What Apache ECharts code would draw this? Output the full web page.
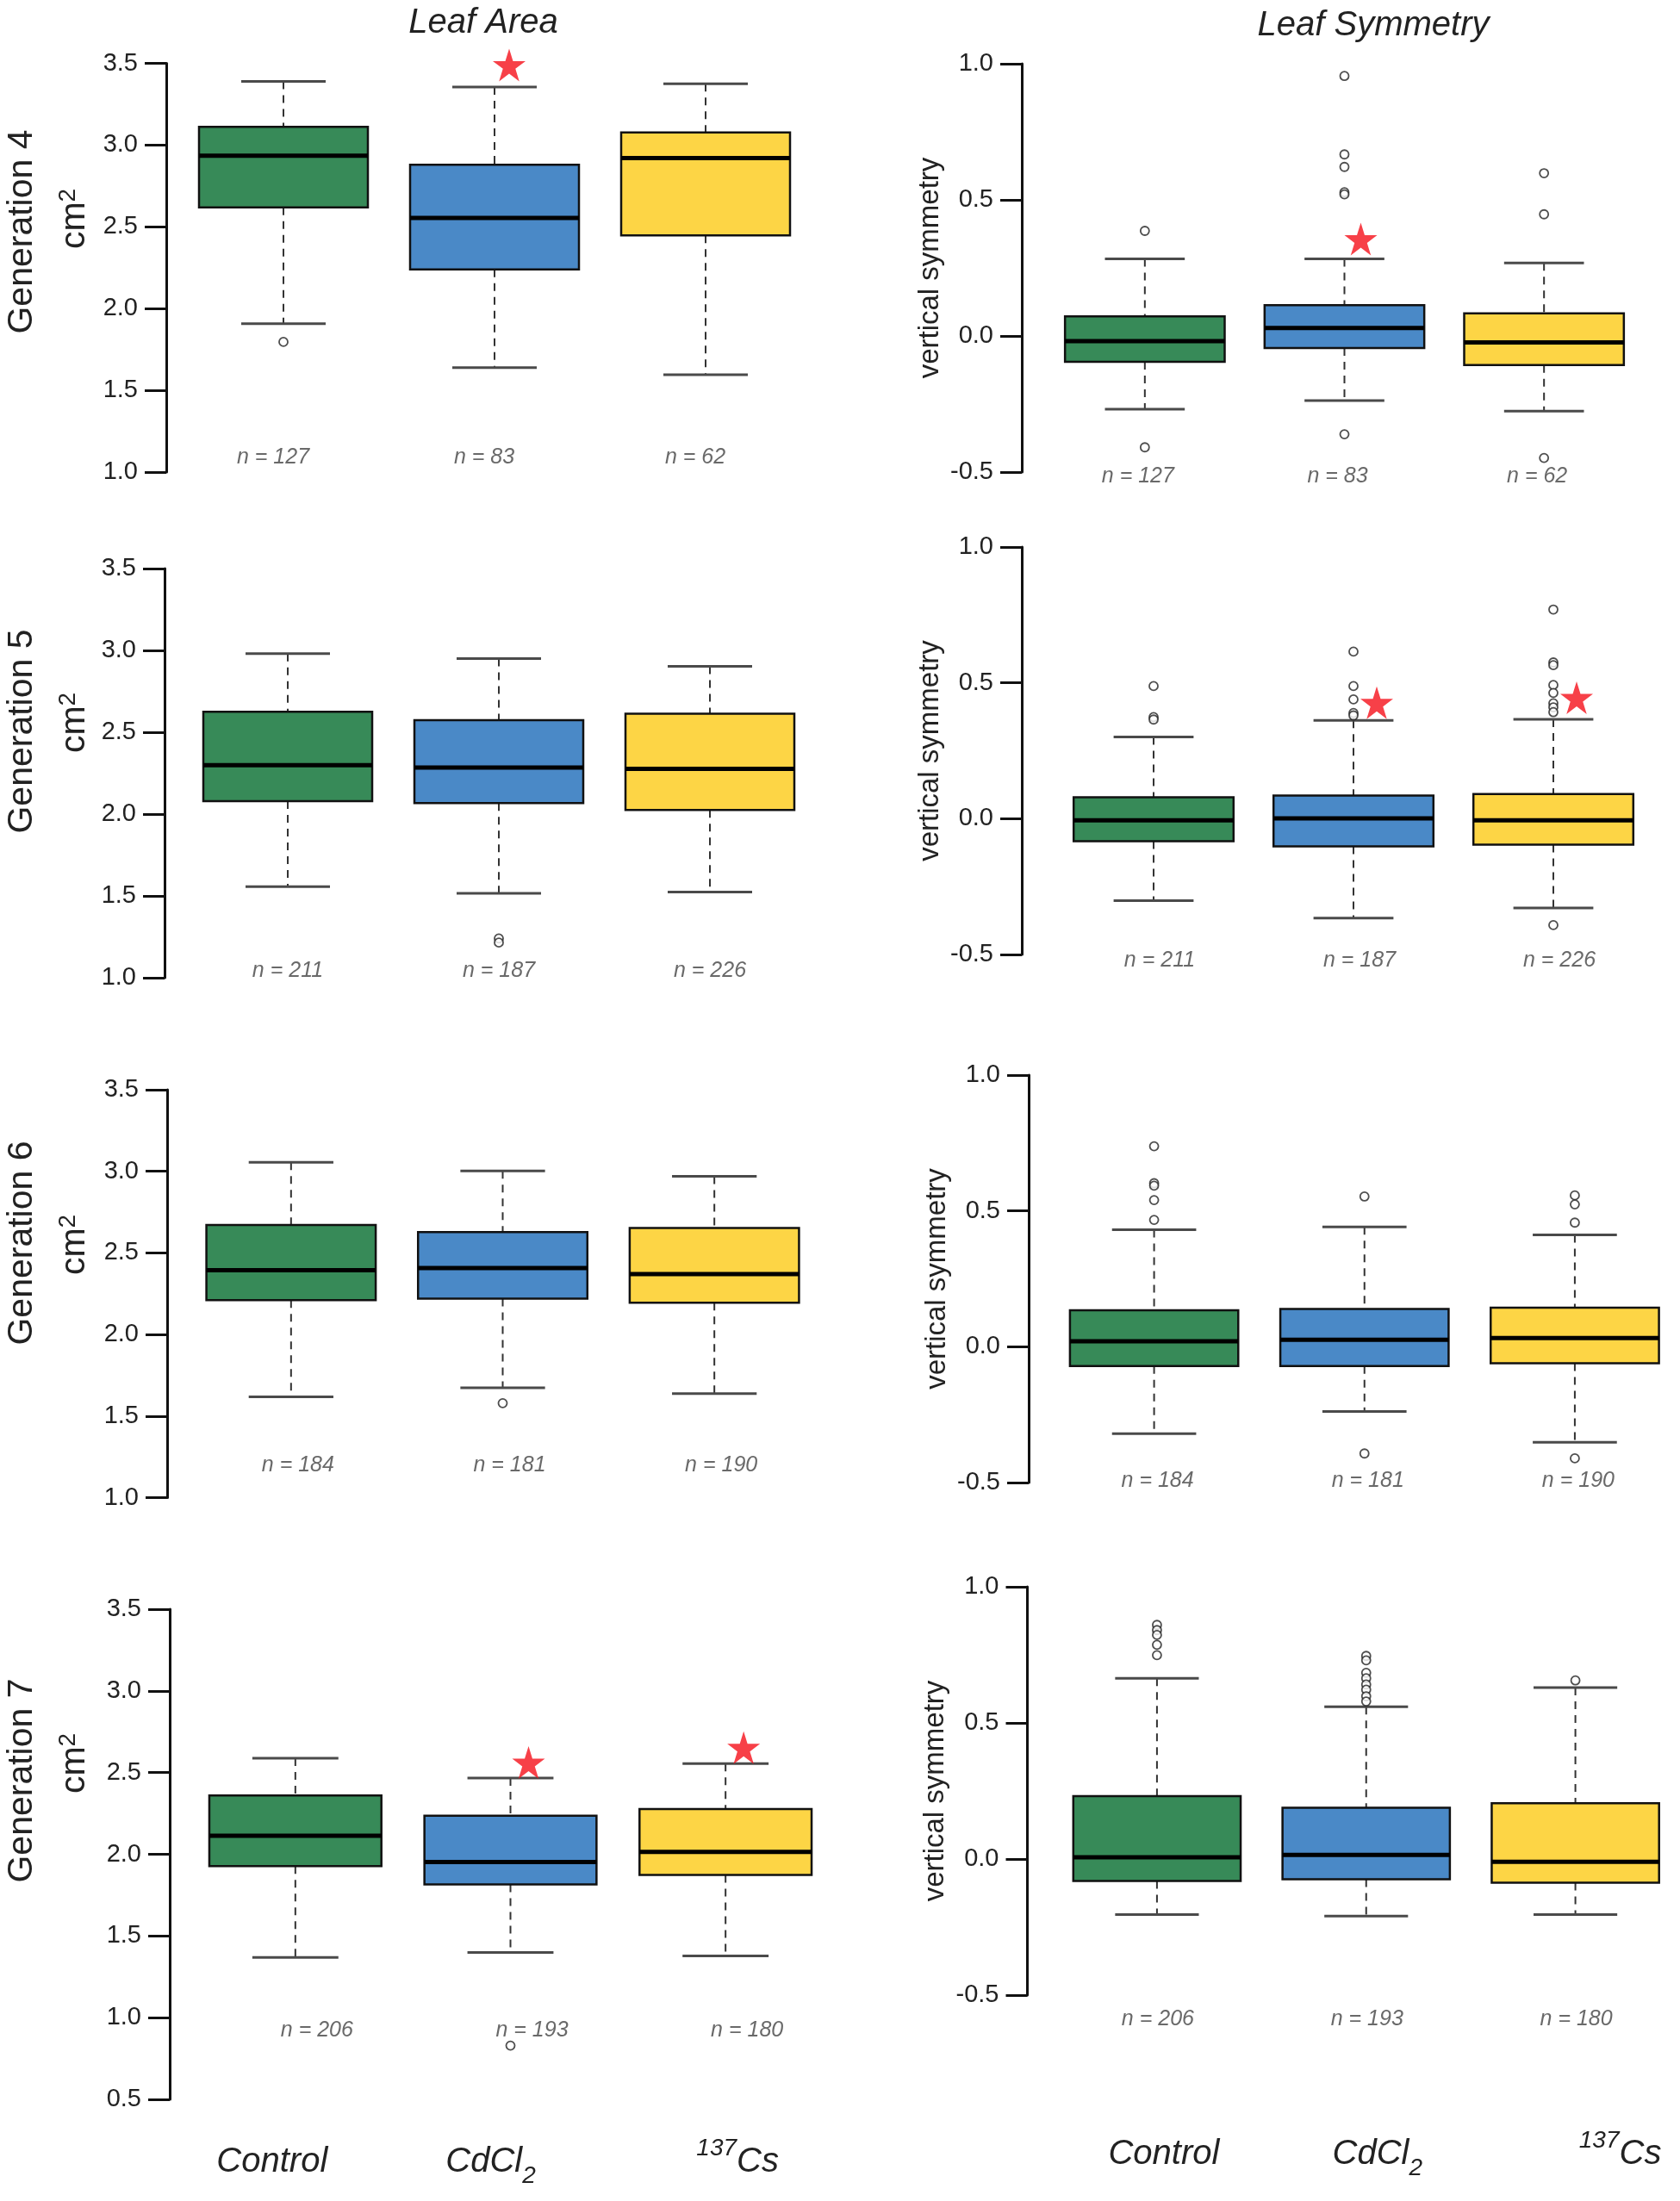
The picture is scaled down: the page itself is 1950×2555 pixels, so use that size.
<!DOCTYPE html>
<html>
<head>
<meta charset="utf-8">
<title>Leaf area and symmetry</title>
<script src="https://cdn.jsdelivr.net/npm/echarts@6.0.0/dist/echarts.min.js"></script>
<style>
  html, body { margin: 0; padding: 0; background: #fff; }
  #chart { width: 1950px; height: 2555px; }
</style>
</head>
<body>
<div id="chart"></div>
<script>
var categories = ['Control', 'CdCl2', '137Cs'];
var boxColors = ['#378a58', '#4a89c7', '#fdd545'];

// box stats per group: [lower whisker, Q1, median, Q3, upper whisker]
var areaGen4 = [[1.907, 2.619, 2.935, 3.111, 3.389], [1.639, 2.240, 2.554, 2.879, 3.355], [1.595, 2.448, 2.921, 3.077, 3.375]];
var areaGen5 = [[1.557, 2.079, 2.299, 2.625, 2.980], [1.516, 2.067, 2.284, 2.574, 2.950], [1.524, 2.025, 2.276, 2.613, 2.903]];
var areaGen6 = [[1.618, 2.211, 2.394, 2.671, 3.055], [1.673, 2.219, 2.407, 2.628, 3.002], [1.638, 2.195, 2.370, 2.652, 2.969]];
var areaGen7 = [[1.368, 1.928, 2.113, 2.360, 2.588], [1.399, 1.815, 1.953, 2.236, 2.467], [1.378, 1.874, 2.015, 2.277, 2.555]];

var symGen4 = [[-0.269, -0.095, -0.019, 0.072, 0.283], [-0.237, -0.044, 0.029, 0.113, 0.283], [-0.276, -0.107, -0.024, 0.083, 0.268]];
var symGen5 = [[-0.302, -0.083, -0.006, 0.079, 0.301], [-0.366, -0.102, 0.001, 0.085, 0.362], [-0.329, -0.096, -0.006, 0.091, 0.366]];
var symGen6 = [[-0.320, -0.071, 0.020, 0.134, 0.431], [-0.238, -0.071, 0.026, 0.139, 0.441], [-0.352, -0.061, 0.032, 0.144, 0.412]];
var symGen7 = [[-0.204, -0.081, 0.006, 0.231, 0.664], [-0.210, -0.074, 0.015, 0.188, 0.559], [-0.204, -0.087, -0.010, 0.205, 0.630]];

// outliers: [group index, value]
var areaGen4Out = [[0, 1.796]];
var areaGen5Out = [[1, 1.240], [1, 1.215]];
var areaGen6Out = [[1, 1.579]];
var areaGen7Out = [[1, 0.829]];
var symGen4Out = [[0, 0.386], [0, -0.409], [1, 0.955], [1, 0.667], [1, 0.621], [1, 0.528], [1, 0.520], [1, -0.361],
                  [2, 0.598], [2, 0.447], [2, -0.448]];
var symGen5Out = [[0, 0.488], [0, 0.374], [0, 0.365], [1, 0.615], [1, 0.488], [1, 0.439], [1, 0.389], [1, 0.380],
                  [2, 0.770], [2, 0.575], [2, 0.565], [2, 0.492], [2, 0.463], [2, 0.425], [2, 0.410], [2, 0.392], [2, -0.392]];
var symGen6Out = [[0, 0.738], [0, 0.602], [0, 0.593], [0, 0.540], [0, 0.467], [1, 0.553], [1, -0.393],
                  [2, 0.557], [2, 0.524], [2, 0.457], [2, -0.411]];
var symGen7Out = [[0, 0.860], [0, 0.841], [0, 0.823], [0, 0.787], [0, 0.749],
                  [1, 0.746], [1, 0.730], [1, 0.684], [1, 0.664], [1, 0.641], [1, 0.622], [1, 0.598], [1, 0.579], [2, 0.656]];

// significance stars: [group index, value]
var areaGen4Stars = [[1, 3.49]];
var symGen4Stars = [[1, 0.356]];
var symGen5Stars = [[1, 0.427], [2, 0.445]];
var areaGen7Stars = [[1, 2.562], [2, 2.652]];

var nGen4 = [127, 83, 62];
var nGen5 = [211, 187, 226];
var nGen6 = [184, 181, 190];
var nGen7 = [206, 193, 180];

var areaTicks = [0.5, 1.0, 1.5, 2.0, 2.5, 3.0, 3.5];
var symTicks = [-0.5, 0.0, 0.5, 1.0];

var FONT = '"Liberation Sans", Arial, Helvetica, sans-serif';
var STAR = 'path://M50,0 L61.2,34.5 L97.6,34.5 L68.2,55.9 L79.4,90.5 L50,69.1 L20.6,90.5 L31.8,55.9 L2.4,34.5 L38.8,34.5 Z';

var panels = [
  { stats: areaGen4, out: areaGen4Out, stars: areaGen4Stars, n: nGen4, area: true,
    grid: { left: 206.5, right: 1008.5, top: 73.5, bottom: 2007 }, offset: 13.5, nY: 1.09, nDx: -12, starDx: 17 },
  { stats: areaGen5, out: areaGen5Out, stars: [], n: nGen5, area: true,
    grid: { left: 211.5, right: 1003.5, top: 660, bottom: 1420 }, offset: 20.5, nY: 1.04, nDx: 0, starDx: 0 },
  { stats: areaGen6, out: areaGen6Out, stars: [], n: nGen6, area: true,
    grid: { left: 215, right: 998, top: 1265, bottom: 816.5 }, offset: 21, nY: 1.20, nDx: 8, starDx: 0 },
  { stats: areaGen7, out: areaGen7Out, stars: areaGen7Stars, n: nGen7, area: true, last: true,
    grid: { left: 218, right: 983, top: 1868, bottom: 118 }, offset: 21, nY: 0.92, nDx: 25, starDx: 21, min: 0.5,
    labelMargin: 43, labelShift: [-27, -23, 14] },
  { stats: symGen4, out: symGen4Out, stars: symGen4Stars, n: nGen4,
    grid: { left: 1213, right: 42, top: 74, bottom: 2007 }, offset: 27, nY: -0.516, nDx: -8, starDx: 19 },
  { stats: symGen5, out: symGen5Out, stars: symGen5Stars, n: nGen5,
    grid: { left: 1223, right: 31, top: 635, bottom: 1447 }, offset: 37, nY: -0.521, nDx: 7, starDx: 27 },
  { stats: symGen6, out: symGen6Out, stars: [], n: nGen6,
    grid: { left: 1217.5, right: -8.5, top: 1248, bottom: 834 }, offset: 23.5, nY: -0.494, nDx: 4, starDx: 0 },
  { stats: symGen7, out: symGen7Out, stars: [], n: nGen7, last: true,
    grid: { left: 1221.5, right: -12.5, top: 1842, bottom: 239 }, offset: 29, nY: -0.588, nDx: 1, starDx: 0,
    labelMargin: 155, labelShift: [8, 13, 52] }
];

function renderBox(params, api) {
  var c = api.value(0);
  var lo = api.coord([c, api.value(1)]);
  var q1 = api.coord([c, api.value(2)]);
  var md = api.coord([c, api.value(3)]);
  var q3 = api.coord([c, api.value(4)]);
  var hi = api.coord([c, api.value(5)]);
  var band = api.size([1, 0])[0];
  var half = band * 0.4, cap = band * 0.2;
  var x = lo[0];
  var dash = { stroke: '#333', lineWidth: 2, lineDash: [9, 7] };
  var capStyle = { stroke: '#4a4a4a', lineWidth: 3 };
  return {
    type: 'group',
    children: [
      { type: 'line', shape: { x1: x, y1: hi[1], x2: x, y2: q3[1] }, style: dash },
      { type: 'line', shape: { x1: x, y1: q1[1], x2: x, y2: lo[1] }, style: dash },
      { type: 'line', shape: { x1: x - cap, y1: hi[1], x2: x + cap, y2: hi[1] }, style: capStyle },
      { type: 'line', shape: { x1: x - cap, y1: lo[1], x2: x + cap, y2: lo[1] }, style: capStyle },
      { type: 'rect', shape: { x: x - half, y: q3[1], width: half * 2, height: q1[1] - q3[1] },
        style: { fill: boxColors[c], stroke: '#111', lineWidth: 2.5 } },
      { type: 'line', shape: { x1: x - half, y1: md[1], x2: x + half, y2: md[1] }, style: { stroke: '#000', lineWidth: 5 } }
    ]
  };
}

function catRich(shift) {
  var base = { fontSize: 40, fontStyle: 'italic', fontFamily: FONT, color: '#222', lineHeight: 60 };
  var rich = {
    t: base,
    sub: { fontSize: 28, fontStyle: 'italic', fontFamily: FONT, color: '#222', lineHeight: 30, verticalAlign: 'bottom' },
    sup: { fontSize: 28, fontStyle: 'italic', fontFamily: FONT, color: '#222', lineHeight: 30, verticalAlign: 'top' }
  };
  (shift || [0, 0, 0]).forEach(function (s, k) {
    rich['g' + k] = { width: Math.max(1, Math.abs(s) * 2), lineHeight: 60, fontSize: 10 };
  });
  return rich;
}

function catFormatter(shift) {
  return function (v, idx) {
    var core = v === 'CdCl2' ? '{t|CdCl}{sub|2}' : v === '137Cs' ? '{sup|137}{t|Cs}' : '{t|' + v + '}';
    var s = shift ? shift[idx] : 0;
    var gap = '{g' + idx + '|\u00a0}';
    if (s > 0) return gap + core;
    if (s < 0) return core + gap;
    return core;
  };
}

var grids = [], xAxes = [], yAxes = [], series = [];

panels.forEach(function (p, i) {
  grids.push(p.grid);
  xAxes.push({
    gridIndex: i, type: 'category', data: categories,
    axisLine: { show: false }, axisTick: { show: false }, splitLine: { show: false },
    axisLabel: {
      show: !!p.last, margin: p.labelMargin || 0, interval: 0,
      formatter: catFormatter(p.labelShift), rich: catRich(p.labelShift)
    }
  });
  var ticks = p.area ? areaTicks : symTicks;
  yAxes.push({
    gridIndex: i, type: 'value',
    min: p.min != null ? p.min : ticks[p.area ? 1 : 0], max: ticks[ticks.length - 1], interval: 0.5,
    offset: p.offset,
    name: p.area ? '' : 'vertical symmetry', nameLocation: 'middle', nameGap: 90,
    nameTextStyle: { fontSize: 33, color: '#222', fontFamily: FONT },
    axisLine: { show: true, lineStyle: { color: '#111', width: 3 } },
    axisTick: { show: true, length: 25, lineStyle: { color: '#111', width: 3 } },
    axisLabel: { fontSize: 29, color: '#222', fontFamily: FONT, margin: 33,
      formatter: function (v) { return v.toFixed(1); } },
    splitLine: { show: false }
  });

  series.push({
    type: 'custom', xAxisIndex: i, yAxisIndex: i, renderItem: renderBox,
    encode: { x: 0, y: [1, 2, 3, 4, 5] },
    data: p.stats.map(function (s, k) { return [k].concat(s); }),
    z: 2
  });
  series.push({
    type: 'scatter', xAxisIndex: i, yAxisIndex: i, symbol: 'circle', symbolSize: 10,
    itemStyle: { color: '#fff', borderColor: '#222', borderWidth: 1.8 },
    data: p.out, z: 3
  });
  if (p.stars.length) {
    series.push({
      type: 'scatter', xAxisIndex: i, yAxisIndex: i, symbol: STAR, symbolSize: 38,
      symbolOffset: [p.starDx, 0], itemStyle: { color: '#f5101a' },
      data: p.stars, clip: false, z: 4
    });
  }
  series.push({
    type: 'scatter', xAxisIndex: i, yAxisIndex: i, symbolSize: 0, clip: false, silent: true,
    data: p.n.map(function (v, k) { return [k, p.nY, v]; }),
    label: {
      show: true, position: 'inside', offset: [p.nDx, 0],
      formatter: function (d) { return 'n = ' + d.value[2]; },
      fontSize: 25, fontStyle: 'italic', color: '#444', fontFamily: FONT
    },
    z: 4
  });
});

// row and column titles
var graphics = [
  { type: 'text', x: 561, y: 27, style: { text: 'Leaf Area', font: 'italic 40px ' + FONT, fill: '#222', align: 'center', verticalAlign: 'middle' } },
  { type: 'text', x: 1594, y: 30, style: { text: 'Leaf Symmetry', font: 'italic 40px ' + FONT, fill: '#222', align: 'center', verticalAlign: 'middle' } }
];
var rowLabels = [['Generation 4', 269, 254], ['Generation 5', 849, 839], ['Generation 6', 1443, 1445], ['Generation 7', 2067, 2047]];
rowLabels.forEach(function (r) {
  graphics.push({ type: 'text', x: 26, y: r[1], rotation: Math.PI / 2,
    style: { text: r[0], font: '41px ' + FONT, fill: '#222', align: 'center', verticalAlign: 'middle' } });
  graphics.push({ type: 'text', x: 87, y: r[2], rotation: Math.PI / 2,
    style: { text: '{a|cm}{b|2}', align: 'center', verticalAlign: 'middle',
      rich: { a: { fontSize: 41, fontFamily: FONT, fill: '#222', lineHeight: 44 },
              b: { fontSize: 28, fontFamily: FONT, fill: '#222', lineHeight: 24, verticalAlign: 'top' } } } });
});

var chart = echarts.init(document.getElementById('chart'), null, { renderer: 'canvas' });
chart.setOption({
  backgroundColor: '#ffffff',
  animation: false,
  textStyle: { fontFamily: FONT },
  grid: grids,
  xAxis: xAxes,
  yAxis: yAxes,
  series: series,
  graphic: graphics
});
</script>
</body>
</html>
